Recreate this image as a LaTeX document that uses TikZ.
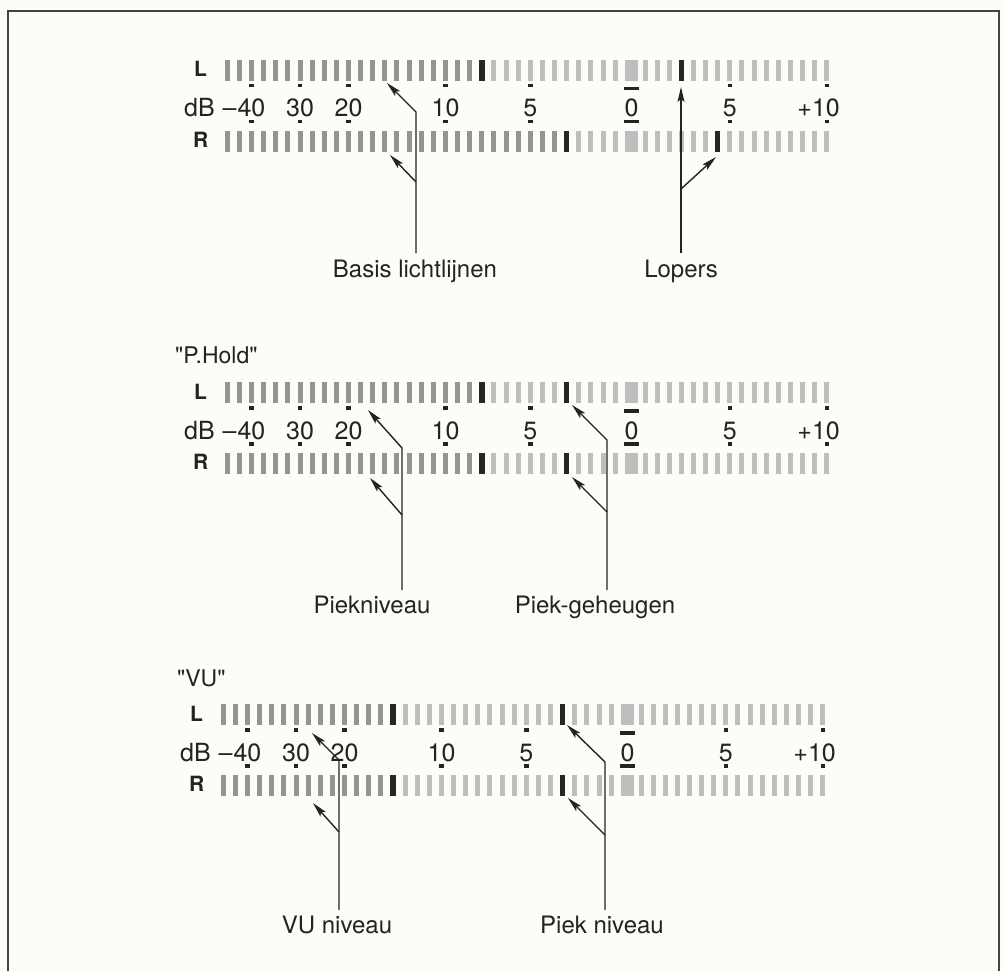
\documentclass[tikz,border=0pt]{standalone}
\usepackage{fontspec}
\setmainfont{TeX Gyre Heros}
\newfontfamily\titlefont{TeX Gyre Heros}
\usetikzlibrary{arrows.meta}
\definecolor{paper}{RGB}{253,252,246}
\definecolor{barmed}{RGB}{148,148,148}
\definecolor{barlight}{RGB}{190,190,190}
\definecolor{bardark}{RGB}{38,38,38}
\definecolor{ink}{RGB}{35,35,35}
\tikzset{
  scale lbl/.style={font=\fontsize{25}{28}\selectfont, text=ink, inner sep=0pt, anchor=base},
  rowlbl/.style={font=\fontsize{21}{24}\selectfont\bfseries, text=ink, inner sep=0pt, anchor=base west},
  caption/.style={font=\fontsize{24}{28}\selectfont, text=ink, inner sep=0pt, anchor=base},
  title/.style={font=\titlefont\fontsize{23}{26}\selectfont, text=ink, inner sep=0pt, anchor=base west},
  arr/.style={draw=ink, line width=1.4pt, -{Stealth[length=15pt,width=7pt,inset=3pt]}},
  frame/.style={draw=ink!85, line width=1.2pt}
}
% one row of segments: #1 top y, #2 last medium index, #3 list of dark x positions
\newcommand\segrow[3]{%
  \foreach \i in {0,...,32}{\fill[barlight] ({227.3+12.12*\i-2.5},#1) rectangle ++(5,21);}
  \fill[barlight] (625,#1) rectangle ++(13,21);
  \foreach \j in {0,...,15}{\fill[barlight] ({645+12.12*\j-2.5},#1) rectangle ++(5,21);}
  \foreach \i in {0,...,#2}{\fill[barmed] ({227.3+12.12*\i-2.5},#1) rectangle ++(5,21);}
  \foreach \x in {#3}{\fill[bardark] ({\x-2.7},#1) rectangle ++(5.4,21);}
}
% a complete meter: #1 x shift, #2 y shift, #3 last medium L, #4 dark L, #5 last medium R, #6 dark R, #7 name prefix
\newcommand\mymeter[7]{%
\begin{scope}[shift={(#1,#2)}]
  \segrow{60}{#3}{#4}
  \segrow{131}{#5}{#6}
  \foreach \x in {251.5,300,348.5,445.5,530.3,729.8,826.8}{
    \fill[ink] ({\x-2.3},84) rectangle ++(4.6,3.5);
    \fill[ink] ({\x-2.3},120) rectangle ++(4.6,3.5);}
  \fill[ink] (624,87) rectangle ++(15,3.5);
  \fill[ink] (624,120) rectangle ++(15,3.5);
  \node[rowlbl] (#7L) at (194,77) {L};
  \node[rowlbl] (#7R) at (193,147) {R};
  \node[scale lbl, anchor=base west] (#7dB) at (184,117) {dB};
  \node[scale lbl, anchor=base east] (#7m40) at (265.5,117) {–\hspace{1pt}40};
  \node[scale lbl] (#7m30) at (300,117) {30};
  \node[scale lbl] (#7m20) at (348.5,117) {20};
  \node[scale lbl] (#7m10) at (445.5,117) {10};
  \node[scale lbl] (#7m5) at (530.3,117) {5};
  \node[scale lbl] (#7z) at (631.5,117) {0};
  \node[scale lbl] (#7p5) at (729.8,117) {5};
  \node[scale lbl, anchor=base east] (#7p10) at (840,117) {+10};
\end{scope}}
\begin{document}
\begin{tikzpicture}[x=1pt,y=-1pt]
\useasboundingbox (0,0) rectangle (1004,971);
\fill[paper] (0,0) rectangle (1004,971);
\draw[frame] (8,971) -- (8,11) -- (999,11) -- (999,971);

% ---------- meter 1 ----------
\mymeter{0}{0}{20}{481.8,681.4}{27}{566.7,717.7}{a}
\node[caption] (basis) at (415,277) {Basis lichtlijnen};
\node[caption] (lopers) at (681,277) {Lopers};
\coordinate (b0) at (416,253); \coordinate (b1) at (416,182); \coordinate (b2) at (416,112);
\coordinate (bL) at (387,83);  \coordinate (bR) at (390,155);
\draw[arr] (b0) -- (b2) -- (bL);
\draw[arr] (b1) -- (bR);
\coordinate (l0) at (681,253); \coordinate (l1) at (681,189);
\coordinate (lL) at (681,87);  \coordinate (lR) at (716,157);
\draw[arr] (l0) -- (lL);
\draw[arr] (l1) -- (lR);

% ---------- meter 2 ----------
\node[title] (phold) at (175,363) {"P.Hold"};
\mymeter{0}{322}{20}{481.8,566.7}{20}{481.8,566.7}{b}
\node[caption] (piekniv) at (372,613) {Piekniveau};
\node[caption] (piekgeh) at (595,613) {Piek-geheugen};
\coordinate (p0) at (402,590); \coordinate (p1) at (402,515); \coordinate (p2) at (402,448);
\coordinate (pL) at (368,410); \coordinate (pR) at (370,478);
\draw[arr] (p0) -- (p2) -- (pL);
\draw[arr] (p1) -- (pR);
\coordinate (g0) at (607,590); \coordinate (g1) at (607,512); \coordinate (g2) at (607,440);
\coordinate (gL) at (572,405); \coordinate (gR) at (572,477);
\draw[arr] (g0) -- (g2) -- (gL);
\draw[arr] (g1) -- (gR);

% ---------- meter 3 ----------
\node[title] (vu) at (177,686) {"VU"};
\mymeter{-4}{644}{13}{397,566.7}{13}{397,566.7}{c}
\node[caption] (vuniv) at (337,933) {VU niveau};
\node[caption] (piekn) at (602,933) {Piek niveau};
\coordinate (v0) at (339,910); \coordinate (v1) at (339,832); \coordinate (v2) at (339,760);
\coordinate (vL) at (312,733); \coordinate (vR) at (313,803);
\draw[arr] (v0) -- (v2) -- (vL);
\draw[arr] (v1) -- (vR);
\coordinate (n0) at (605,910); \coordinate (n1) at (605,835); \coordinate (n2) at (605,762);
\coordinate (nL) at (567,725); \coordinate (nR) at (568,798);
\draw[arr] (n0) -- (n2) -- (nL);
\draw[arr] (n1) -- (nR);
\end{tikzpicture}
\end{document}
